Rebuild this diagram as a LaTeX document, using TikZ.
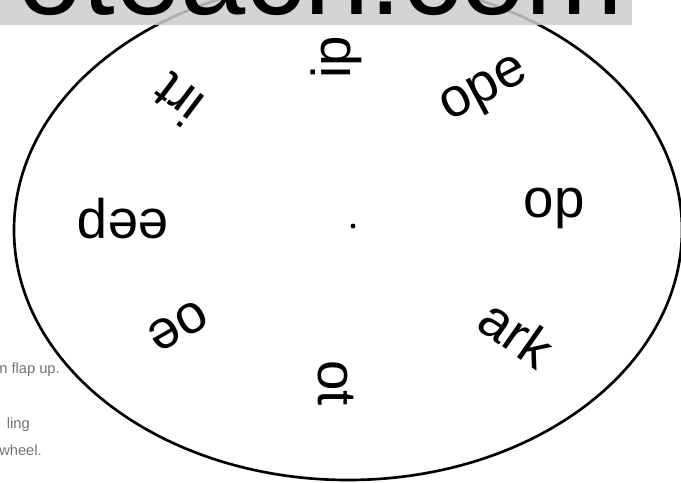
\documentclass[tikz,border=0pt]{standalone}
\usepackage{fontspec}
\setmainfont{Liberation Sans}
\tikzset{
  rim/.style={line width=2pt},
  band/.style={fill=black!20, fill opacity=0.85},
  site/.style={inner sep=0pt, anchor=base east, font=\fontsize{88}{88}\selectfont},
  word/.style={inner sep=0pt, font=\fontsize{41}{41}\selectfont},
  note/.style={inner sep=0pt, anchor=east, text=black!55, font=\fontsize{11}{11}\selectfont},
  dotnode/.style={circle, fill=black, inner sep=1.3pt},
  }

\begin{document}
\begin{tikzpicture}[x=0.75pt,y=-0.75pt]
  \useasboundingbox (0,0) rectangle (681,482);
  \clip (0,0) rectangle (681,482);

  % wheel
  \draw[rim] (348,230) ellipse [x radius=334, y radius=250];

  % cut-off header
  \fill[band] (0,0) rectangle (632,25);
  \node[site] (site) at (624,14) {oteach.com};

  % words round the wheel
  \node[word,rotate=90]   (w1) at (336,57)  {ip};    % top
  \node[word,rotate=28]   (w2) at (486,92)  {ope};   % top right
  \node[word]             (w3) at (554,208) {op};    % right
  \node[word,rotate=-35]  (w4) at (517,333) {ark};   % bottom right
  \node[word,rotate=-90]  (w5) at (336,383) {ot};    % bottom
  \node[word,rotate=-150] (w6) at (178,326) {oe};    % bottom left
  \node[word,rotate=180]  (w7) at (123,219) {eep};   % left
  \node[word,rotate=143]  (w8) at (178,100) {irt};   % top left
  \node[dotnode] (hub) at (353,226) {};              % centre

  % cut-off notes at the left
  \node[note] (n1) at (60,370) {n flap up.};
  \node[note] (n2) at (30,425) {ling};
  \node[note] (n3) at (42,450) {wheel.};
\end{tikzpicture}
\end{document}
